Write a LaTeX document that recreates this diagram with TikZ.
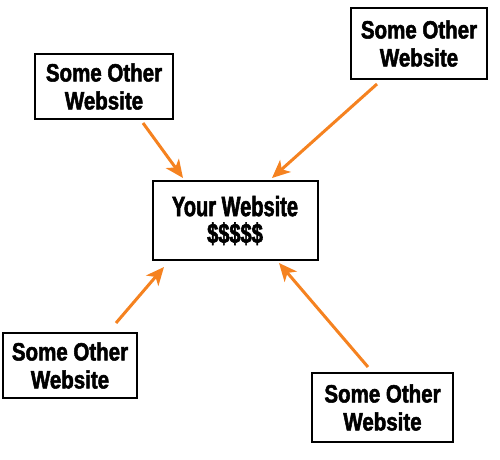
\documentclass[tikz,border=0pt]{standalone}
\usepackage{fontspec}
\usetikzlibrary{arrows.meta}
\newfontfamily\otherfont[FakeStretch=0.82,FakeBold=2]{Liberation Sans Bold}
\newfontfamily\yourfont[FakeStretch=0.715,FakeBold=2]{Liberation Sans Bold}
\definecolor{arroworange}{RGB}{245,130,32}
\tikzset{
  sitebox/.style={draw=black, line width=2pt, fill=white, align=center, inner sep=0pt},
  otherbox/.style={sitebox, font=\otherfont\fontsize{25}{28}\selectfont},
  linkarrow/.style={draw=arroworange, line width=3pt, -{Stealth[length=18pt,width=16pt,inset=5pt]}}
}
\begin{document}
\begin{tikzpicture}[x=1pt,y=-1pt]
\useasboundingbox (0,0) rectangle (500,459);
\node[sitebox, minimum width=165pt, minimum height=79pt, font=\yourfont\fontsize{28}{27}\selectfont] (your) at (235,220.5) {Your Website\\\$\$\$\$\$};
\node[otherbox, minimum width=138pt, minimum height=65pt] (tl) at (104,86.5) {Some Other\\Website};
\node[otherbox, minimum width=136pt, minimum height=71pt] (tr) at (419,43.5) {Some Other\\Website};
\node[otherbox, minimum width=134pt, minimum height=65pt] (bl) at (70,365.5) {Some Other\\Website};
\node[otherbox, minimum width=141pt, minimum height=69pt] (br) at (382.5,407.5) {Some Other\\Website};
\coordinate (tlA) at (143,123);
\coordinate (tlB) at (183,178);
\coordinate (trA) at (377,84);
\coordinate (trB) at (272,178);
\coordinate (blA) at (116,323);
\coordinate (blB) at (164,267);
\coordinate (brA) at (368,367);
\coordinate (brB) at (279,263);
\draw[linkarrow] (tlA) -- (tlB);
\draw[linkarrow] (trA) -- (trB);
\draw[linkarrow] (blA) -- (blB);
\draw[linkarrow] (brA) -- (brB);
\end{tikzpicture}
\end{document}
